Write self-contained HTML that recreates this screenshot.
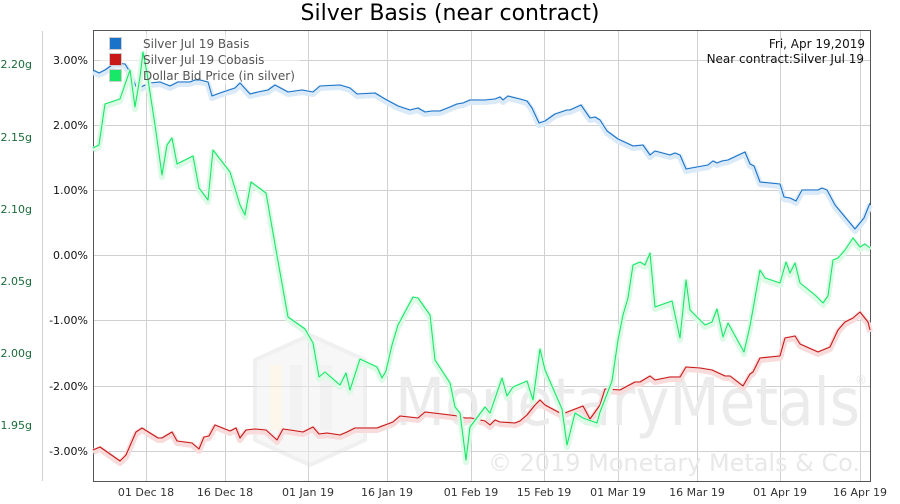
<!DOCTYPE html>
<html><head><meta charset="utf-8"><style>
body{margin:0;background:#fff;width:900px;height:500px;overflow:hidden;font-family:"DejaVu Sans","Liberation Sans",sans-serif}
</style></head><body>
<svg width="900" height="500" xmlns="http://www.w3.org/2000/svg" font-family="DejaVu Sans, Liberation Sans, sans-serif">
<rect width="900" height="500" fill="#fff"/>
<text x="450" y="20" text-anchor="middle" font-size="22" fill="#000">Silver Basis (near contract)</text>
<g stroke="#d0d0d0" stroke-width="1">
<line x1="93" x2="870" y1="60.5" y2="60.5"/><line x1="93" x2="870" y1="125.5" y2="125.5"/><line x1="93" x2="870" y1="190.5" y2="190.5"/><line x1="93" x2="870" y1="255.5" y2="255.5"/><line x1="93" x2="870" y1="320.5" y2="320.5"/><line x1="93" x2="870" y1="386.5" y2="386.5"/><line x1="93" x2="870" y1="451.5" y2="451.5"/>
<line x1="146.5" x2="146.5" y1="31" y2="481"/><line x1="225.5" x2="225.5" y1="31" y2="481"/><line x1="308.5" x2="308.5" y1="31" y2="481"/><line x1="387.5" x2="387.5" y1="31" y2="481"/><line x1="471.5" x2="471.5" y1="31" y2="481"/><line x1="544.5" x2="544.5" y1="31" y2="481"/><line x1="618.5" x2="618.5" y1="31" y2="481"/><line x1="697.5" x2="697.5" y1="31" y2="481"/><line x1="780.5" x2="780.5" y1="31" y2="481"/><line x1="860.5" x2="860.5" y1="31" y2="481"/>
<line x1="42.5" x2="42.5" y1="31" y2="481"/>
</g>
<g opacity="0.5">
<polygon points="310,335 365,360 365,440 310,465 255,440 255,360" fill="#f1f1f1" stroke="#e2e2e2" stroke-width="4"/>
<rect x="270" y="365" width="12" height="65" fill="#fbefd8"/><rect x="290" y="365" width="12" height="65" fill="#e6e6e6"/><rect x="320" y="365" width="12" height="65" fill="#e6e6e6"/>
</g>
<text x="395" y="425" font-size="66" fill="#ebebeb" textLength="465" lengthAdjust="spacingAndGlyphs">MonetaryMetals</text>
<text x="855" y="384" font-size="12" fill="#e6e6e6">®</text>
<text x="488" y="471" font-size="24" fill="#e8e8e8" textLength="372" lengthAdjust="spacingAndGlyphs">© 2019 Monetary Metals &amp; Co.</text>
<rect x="93.5" y="30.5" width="777" height="451" fill="none" stroke="#555" stroke-width="1"/>
<g font-size="11" fill="#111" text-anchor="end">
<text x="88" y="64">3.00%</text><text x="88" y="129">2.00%</text><text x="88" y="194">1.00%</text><text x="88" y="259">0.00%</text><text x="88" y="324">-1.00%</text><text x="88" y="390">-2.00%</text><text x="88" y="455">-3.00%</text>
</g>
<g font-size="11" fill="#1a6b3a" text-anchor="end">
<text x="32" y="68">2.20g</text><text x="32" y="141">2.15g</text><text x="32" y="213">2.10g</text><text x="32" y="285">2.05g</text><text x="32" y="357">2.00g</text><text x="32" y="429">1.95g</text>
</g>
<g font-size="11" fill="#333" text-anchor="middle">
<text x="146" y="496">01 Dec 18</text><text x="225" y="496">16 Dec 18</text><text x="308" y="496">01 Jan 19</text><text x="387" y="496">16 Jan 19</text><text x="471" y="496">01 Feb 19</text><text x="544" y="496">15 Feb 19</text><text x="618" y="496">01 Mar 19</text><text x="697" y="496">16 Mar 19</text><text x="780" y="496">01 Apr 19</text><text x="860" y="496">16 Apr 19</text>
</g>
<rect x="100" y="34" width="200" height="50" fill="#fff" opacity="0.5"/>
<g fill="none" stroke-linejoin="round">
<polyline points="93,70 99,73 105,70 115,63 125,64 130,72 137,89 143,86 150,83 160,82 170,86 178,82 190,82 195,80 200,80 208,82 212,96 220,93 235,88 240,83 250,94 258,92 268,90 275,85 288,92 302,90 313,92 320,86 340,85 350,88 357,94 375,93 385,99 398,106 410,110 418,108 425,112 432,111 440,111 450,107 457,104 463,103 470,100 485,100 495,99 500,97 503,100 508,96 520,99 527,101 532,108 539,123 545,121 555,114 561,112 567,110 570,110 581,105 590,118 595,117 600,120 607,131 618,139 633,146 643,145 650,155 655,151 670,155 675,153 680,155 686,169 708,165 713,161 717,163 722,161 728,160 745,152 750,164 754,166 760,182 780,184 784,197 790,198 796,201 802,190 818,190 822,188 827,190 835,205 855,229 864,218 870,203" stroke="#dbeaf8" stroke-width="6" transform="translate(0,2)"/>
<polyline points="93,70 99,73 105,70 115,63 125,64 130,72 137,89 143,86 150,83 160,82 170,86 178,82 190,82 195,80 200,80 208,82 212,96 220,93 235,88 240,83 250,94 258,92 268,90 275,85 288,92 302,90 313,92 320,86 340,85 350,88 357,94 375,93 385,99 398,106 410,110 418,108 425,112 432,111 440,111 450,107 457,104 463,103 470,100 485,100 495,99 500,97 503,100 508,96 520,99 527,101 532,108 539,123 545,121 555,114 561,112 567,110 570,110 581,105 590,118 595,117 600,120 607,131 618,139 633,146 643,145 650,155 655,151 670,155 675,153 680,155 686,169 708,165 713,161 717,163 722,161 728,160 745,152 750,164 754,166 760,182 780,184 784,197 790,198 796,201 802,190 818,190 822,188 827,190 835,205 855,229 864,218 870,203" stroke="#1a73c8" stroke-width="1.1"/>
<polyline points="93,450 100,447 120,461 126,455 136,432 142,428 158,438 162,438 172,432 177,441 192,443 199,449 204,437 209,436 215,425 230,431 236,428 240,438 246,430 255,429 266,430 277,440 283,429 290,430 303,432 313,427 319,434 327,433 340,435 347,432 355,428 377,428 385,425 393,422 400,416 418,418 425,412 450,415 458,416 465,418 471,418 485,421 490,425 495,420 500,422 515,423 520,421 527,415 535,405 540,400 545,405 560,413 565,413 570,411 583,406 590,419 600,405 605,389 620,390 635,382 640,382 650,376 655,380 670,377 680,377 686,367 700,368 712,370 725,376 730,376 743,386 750,374 753,372 760,358 780,356 785,338 795,336 800,344 818,352 830,347 838,330 845,322 853,318 860,312 868,322 870,330" stroke="#f8dcdc" stroke-width="6" transform="translate(0,2)"/>
<polyline points="93,450 100,447 120,461 126,455 136,432 142,428 158,438 162,438 172,432 177,441 192,443 199,449 204,437 209,436 215,425 230,431 236,428 240,438 246,430 255,429 266,430 277,440 283,429 290,430 303,432 313,427 319,434 327,433 340,435 347,432 355,428 377,428 385,425 393,422 400,416 418,418 425,412 450,415 458,416 465,418 471,418 485,421 490,425 495,420 500,422 515,423 520,421 527,415 535,405 540,400 545,405 560,413 565,413 570,411 583,406 590,419 600,405 605,389 620,390 635,382 640,382 650,376 655,380 670,377 680,377 686,367 700,368 712,370 725,376 730,376 743,386 750,374 753,372 760,358 780,356 785,338 795,336 800,344 818,352 830,347 838,330 845,322 853,318 860,312 868,322 870,330" stroke="#c81818" stroke-width="1.1"/>
<polyline points="93,148 99,145 105,104 120,99 130,70 135,107 140,77 143,52 147,73 155,125 162,175 167,145 172,138 177,164 193,156 199,188 208,200 213,150 230,172 240,205 245,215 251,182 266,193 276,250 288,317 305,329 313,343 319,377 325,372 340,385 346,373 350,390 360,359 377,367 382,378 386,371 392,345 398,325 413,297 418,298 430,315 435,360 450,383 455,407 460,413 466,460 470,427 485,407 490,413 502,378 507,396 513,387 527,381 533,400 540,349 545,370 562,409 567,445 575,413 583,418 597,423 600,412 612,381 618,340 623,315 628,298 633,265 640,262 645,265 650,253 655,307 672,301 680,338 686,280 690,310 705,325 712,322 717,309 723,337 728,323 744,352 750,326 760,270 765,278 780,283 786,262 790,273 795,263 800,283 815,295 823,303 828,296 833,260 838,258 845,250 853,238 860,247 865,244 870,248" stroke="#dcfae6" stroke-width="6" transform="translate(0,2)"/>
<polyline points="93,148 99,145 105,104 120,99 130,70 135,107 140,77 143,52 147,73 155,125 162,175 167,145 172,138 177,164 193,156 199,188 208,200 213,150 230,172 240,205 245,215 251,182 266,193 276,250 288,317 305,329 313,343 319,377 325,372 340,385 346,373 350,390 360,359 377,367 382,378 386,371 392,345 398,325 413,297 418,298 430,315 435,360 450,383 455,407 460,413 466,460 470,427 485,407 490,413 502,378 507,396 513,387 527,381 533,400 540,349 545,370 562,409 567,445 575,413 583,418 597,423 600,412 612,381 618,340 623,315 628,298 633,265 640,262 645,265 650,253 655,307 672,301 680,338 686,280 690,310 705,325 712,322 717,309 723,337 728,323 744,352 750,326 760,270 765,278 780,283 786,262 790,273 795,263 800,283 815,295 823,303 828,296 833,260 838,258 845,250 853,238 860,247 865,244 870,248" stroke="#18e868" stroke-width="1.1"/>
</g>
<g font-size="12" fill="#555">
<rect x="109.5" y="37.5" width="12" height="12" fill="#1a73c8" stroke="#ccc"/><text x="143" y="48">Silver Jul 19 Basis</text>
<rect x="109.5" y="53.5" width="12" height="12" fill="#c81818" stroke="#ccc"/><text x="143" y="64">Silver Jul 19 Cobasis</text>
<rect x="109.5" y="69.5" width="12" height="12" fill="#18e868" stroke="#ccc"/><text x="143" y="80">Dollar Bid Price (in silver)</text>
</g>
<g font-size="12" fill="#111" text-anchor="end">
<text x="865" y="48">Fri, Apr 19,2019</text>
<text x="864" y="63">Near contract:Silver Jul 19</text>
</g>
</svg>
</body></html>
